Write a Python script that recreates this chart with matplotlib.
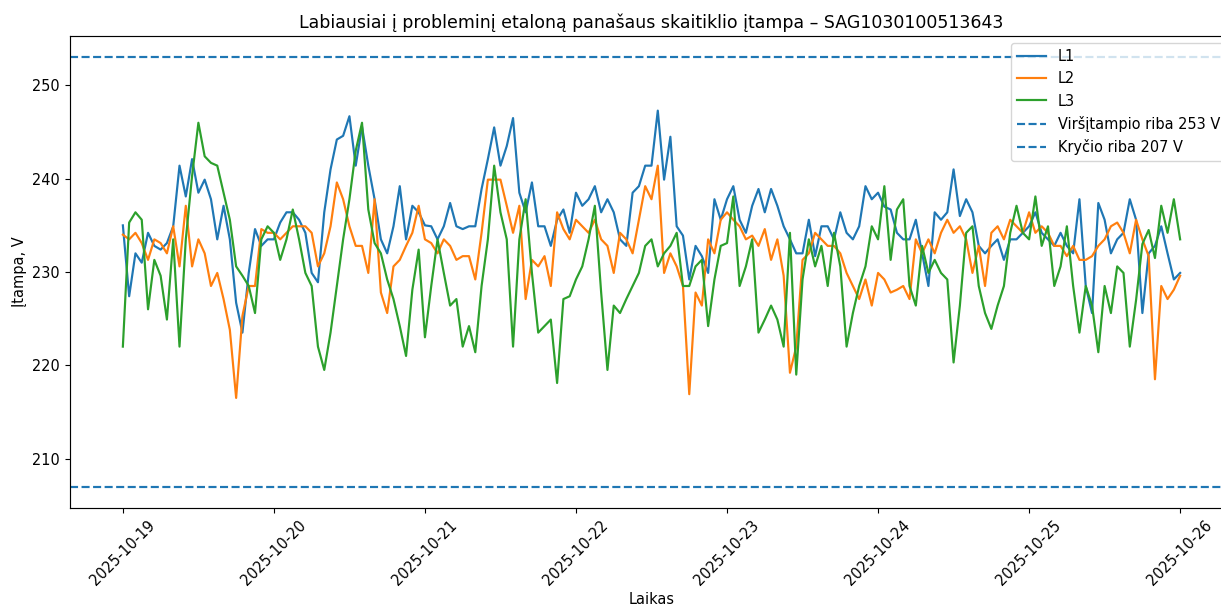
import matplotlib
matplotlib.use("Agg")
import matplotlib.pyplot as plt
import matplotlib.dates as mdates
import numpy as np
import pandas as pd

# the reference is a slightly enlarged render, so text and strokes grow a bit
scale = 1.045
plt.rcParams.update({
    "font.size": 10 * scale,
    "lines.linewidth": 1.5 * scale,
    "axes.linewidth": 0.8 * scale,
    "xtick.major.size": 3.5 * scale,
    "ytick.major.size": 3.5 * scale,
})

# hourly readings, 2025-10-19 00:00 .. 2025-10-26 00:00
times = pd.date_range("2025-10-19", "2025-10-26", freq="h")

l1 = [
    235.0, 227.4, 232.0, 231.0, 234.2, 232.8, 232.4, 233.1, 234.9, 241.4, 238.1, 242.1,
    238.5, 239.9, 237.8, 233.5, 237.1, 233.5, 226.7, 223.5, 229.9, 234.6, 232.8, 233.5,
    233.5, 235.3, 236.4, 236.4, 235.6, 234.2, 229.9, 228.9, 236.4, 241.0, 244.2, 244.6,
    246.7, 241.4, 245.6, 241.4, 237.8, 233.5, 232.0, 234.9, 239.2, 233.5, 237.1, 236.4,
    235.0, 234.9, 233.5, 234.9, 237.4, 234.9, 234.6, 234.9, 234.9, 238.9, 242.1, 245.5,
    241.4, 243.5, 246.5, 238.5, 236.4, 239.6, 234.9, 234.9, 232.8, 235.6, 236.7, 234.2,
    238.5, 237.1, 237.8, 239.2, 236.4, 237.8, 236.4, 233.5, 232.8, 238.5, 239.2, 241.4,
    241.4, 247.3, 239.9, 244.5, 234.9, 233.9, 229.2, 232.8, 231.7, 229.9, 237.8, 235.6,
    237.8, 239.2, 235.6, 234.2, 237.1, 238.9, 236.4, 238.9, 237.1, 234.9, 233.5, 232.0,
    232.0, 235.6, 231.7, 234.9, 234.9, 233.5, 236.4, 234.2, 233.5, 234.9, 239.2, 237.8,
    238.5, 237.0, 236.7, 234.2, 233.5, 233.5, 235.6, 232.0, 228.5, 236.4, 235.6, 236.4,
    241.0, 236.0, 237.8, 236.4, 232.8, 232.0, 232.8, 233.5, 231.3, 233.5, 233.5, 234.2,
    234.9, 236.4, 234.2, 233.5, 232.8, 234.2, 232.8, 232.0, 237.8, 228.5, 225.6, 237.4,
    235.6, 232.0, 233.5, 234.2, 237.8, 235.6, 225.6, 232.0, 232.8, 234.9, 232.0, 229.2,
    229.9,
]
l2 = [
    234.0, 233.5, 234.2, 233.1, 231.3, 233.5, 233.1, 232.0, 234.9, 230.6, 237.1, 230.6,
    233.5, 232.0, 228.5, 229.9, 227.1, 223.8, 216.5, 225.3, 228.5, 228.5, 234.6, 234.2,
    234.2, 233.5, 234.2, 234.9, 234.9, 234.9, 234.2, 230.6, 232.0, 234.9, 239.6, 237.8,
    234.9, 232.8, 232.8, 229.9, 237.8, 227.8, 225.6, 230.6, 231.3, 232.8, 234.2, 237.1,
    233.5, 233.1, 232.0, 233.5, 232.8, 231.3, 231.7, 231.7, 229.2, 234.2, 239.9, 239.9,
    239.9, 237.1, 234.2, 237.1, 227.1, 231.3, 230.6, 231.7, 228.5, 236.4, 234.6, 233.5,
    235.6, 234.9, 234.2, 235.6, 233.5, 232.8, 229.9, 234.2, 233.5, 232.0, 235.6, 239.2,
    237.8, 241.4, 229.9, 232.0, 230.6, 228.5, 216.9, 227.8, 226.4, 233.5, 232.0, 235.6,
    236.4, 235.6, 234.9, 233.5, 233.9, 232.8, 234.6, 231.3, 233.5, 229.6, 219.2, 222.0,
    231.3, 232.0, 234.2, 233.5, 232.8, 232.8, 232.0, 229.9, 228.5, 227.1, 229.2, 226.4,
    229.9, 229.2, 227.8, 228.1, 228.5, 227.1, 233.5, 232.0, 233.5, 232.0, 234.2, 235.6,
    234.2, 234.9, 233.5, 229.9, 232.8, 228.5, 234.2, 234.9, 233.5, 235.6, 234.9, 234.2,
    236.4, 234.2, 234.9, 234.2, 232.8, 232.8, 231.7, 232.8, 231.3, 231.3, 231.7, 232.8,
    233.5, 234.9, 235.3, 234.2, 232.0, 235.6, 233.5, 231.7, 218.5, 228.5, 227.1, 228.1,
    229.6,
]
l3 = [
    222.0, 235.3, 236.4, 235.6, 226.0, 231.3, 229.6, 224.9, 233.5, 222.0, 233.5, 240.3,
    246.0, 242.4, 241.7, 241.4, 238.5, 235.6, 230.6, 229.6, 228.5, 225.6, 233.5, 234.9,
    234.2, 231.3, 233.5, 236.7, 233.5, 229.9, 228.5, 222.0, 219.5, 223.5, 228.5, 233.5,
    237.8, 243.0, 246.0, 236.7, 233.1, 232.0, 229.2, 227.1, 224.2, 221.0, 228.1, 232.4,
    223.0, 228.5, 233.5, 229.9, 226.4, 227.1, 222.0, 224.2, 221.4, 228.5, 233.5, 241.4,
    236.4, 233.5, 222.0, 233.5, 237.8, 229.9, 223.5, 224.2, 224.9, 218.1, 227.1, 227.4,
    229.2, 230.6, 233.5, 237.1, 227.8, 219.5, 226.4, 225.6, 227.1, 228.5, 229.9, 232.8,
    233.5, 230.6, 232.0, 232.8, 234.2, 228.5, 228.5, 230.6, 231.3, 224.2, 229.2, 232.8,
    233.1, 238.1, 228.5, 230.6, 233.5, 223.5, 224.9, 226.4, 224.9, 222.0, 234.2, 219.0,
    229.2, 233.5, 230.6, 232.8, 228.5, 234.2, 230.6, 222.0, 225.6, 228.5, 230.6, 234.9,
    233.5, 239.2, 231.3, 236.7, 237.8, 228.5, 226.4, 232.8, 229.9, 231.3, 229.9, 229.2,
    220.3, 226.4, 234.2, 234.9, 228.5, 225.6, 223.9, 226.4, 228.5, 234.2, 237.1, 234.2,
    233.5, 238.1, 232.8, 234.9, 228.5, 230.6, 234.9, 228.5, 223.5, 228.5, 226.4, 221.4,
    228.5, 225.6, 230.6, 229.9, 222.0, 227.0, 233.0, 234.5, 231.5, 237.1, 234.2, 237.8,
    233.5,
]

over_limit = 253
under_limit = 207
meter_id = "SAG1030100513643"

fig = plt.figure(figsize=(12.21, 6.06), dpi=100)
ax = fig.add_axes([70 / 1221, 98 / 606, 1163 / 1221, 472 / 606])

ax.plot(times, l1, label="L1")
ax.plot(times, l2, label="L2")
ax.plot(times, l3, label="L3")
ax.axhline(over_limit, linestyle="--", label=f"Viršįtampio riba {over_limit} V")
ax.axhline(under_limit, linestyle="--", label=f"Kryčio riba {under_limit} V")

ax.set_title(f"Labiausiai į probleminį etaloną panašaus skaitiklio įtampa – {meter_id}")
ax.set_xlabel("Laikas", labelpad=2.5)
ax.set_ylabel("Įtampa, V")
ax.xaxis.set_major_locator(mdates.DayLocator())
ax.xaxis.set_major_formatter(mdates.DateFormatter("%Y-%m-%d"))
plt.setp(ax.get_xticklabels(), rotation=45)
ax.legend(loc="upper right")

fig.savefig("out.png", dpi=100)
